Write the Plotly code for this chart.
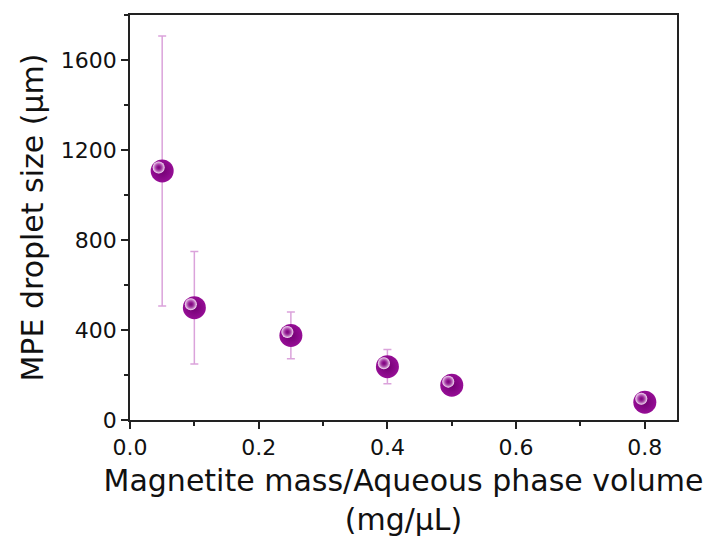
import plotly.graph_objects as go

ratio = [0.05, 0.10, 0.25, 0.40, 0.50, 0.80]
size_um = [1107, 499, 376, 237, 155, 79]
err_um = [600, 250, 104, 76, 20, 10]

W, H = 718, 546
L, R, T, B = 130, 41, 15, 126
pw = W - L - R
ph = H - T - B
XR = [0, 0.85]
YR = [0, 1800]
sx = 3.5 * (XR[1] - XR[0]) / pw   # highlight offset: px left
sy = 3.5 * (YR[1] - YR[0]) / ph   # highlight offset: px up

FONT = "DejaVu Sans"

fig = go.Figure()
fig.add_trace(go.Scatter(
    x=ratio, y=size_um, mode="markers",
    error_y=dict(type="data", array=err_um, color="#dba3db", thickness=1.5, width=4),
    marker=dict(size=23, color="#960e96", line=dict(width=0),
                gradient=dict(type="radial", color="#720072")),
    showlegend=False, hoverinfo="skip"))
fig.add_trace(go.Scatter(
    x=ratio, y=size_um, mode="markers", xaxis="x2", yaxis="y2",
    marker=dict(size=12, color="#fbeefb", line=dict(width=0),
                gradient=dict(type="radial", color="rgba(150,14,150,0)")),
    showlegend=False, hoverinfo="skip"))

axis_common = dict(showgrid=False, zeroline=False, showline=True, linecolor="#222",
                   linewidth=1.5, mirror=True, ticks="outside", ticklen=7, tickwidth=1.5,
                   tickcolor="#222", tickfont=dict(family=FONT, size=22, color="#111"))
fig.update_layout(
    width=W, height=H, margin=dict(l=L, r=R, t=T, b=B),
    plot_bgcolor="white", paper_bgcolor="white",
    xaxis=dict(range=XR, dtick=0.2, tick0=0, tickformat=".1f",
               minor=dict(dtick=0.1, ticks="outside", ticklen=4, tickwidth=1.5, tickcolor="#222"),
               title=dict(text="Magnetite mass/Aqueous phase volume<br>(mg/µL)",
                          font=dict(family=FONT, size=30, color="#111"), standoff=11),
               **axis_common),
    yaxis=dict(range=YR, dtick=400, tick0=0,
               minor=dict(dtick=200, ticks="outside", ticklen=4, tickwidth=1.5, tickcolor="#222"),
               title=dict(text="MPE droplet size (µm)",
                          font=dict(family=FONT, size=30, color="#111"), standoff=8),
               **axis_common),
    xaxis2=dict(range=[XR[0] + sx, XR[1] + sx], overlaying="x", anchor="y2", visible=False),
    yaxis2=dict(range=[YR[0] - sy, YR[1] - sy], overlaying="y", anchor="x2", visible=False),
)
fig.write_html("out.html")
